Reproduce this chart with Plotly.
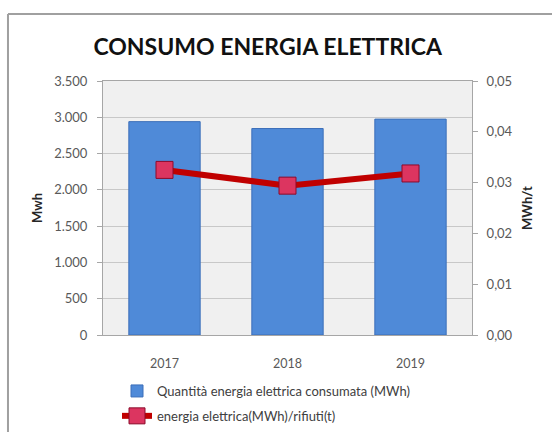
import plotly.graph_objects as go

# Annual electricity consumption and consumption per tonne of waste
years = ["2017", "2018", "2019"]
consumo_mwh = [2940, 2845, 2975]
mwh_per_t = [0.0325, 0.0294, 0.0318]

left_ticks = [0, 500, 1000, 1500, 2000, 2500, 3000, 3500]
right_ticks = [0.00, 0.01, 0.02, 0.03, 0.04, 0.05]

FONT = "Lato, Calibri, 'Open Sans', sans-serif"
TICK_GRAY = "#595959"
AXIS_GRAY = "#a6a6a6"

fig = go.Figure()

fig.add_trace(go.Bar(
    x=years,
    y=consumo_mwh,
    name="Quantità energia elettrica consumata (MWh)",
    marker=dict(color="#4f8ad8", line=dict(color="#3c6fb9", width=1)),
    width=0.58,
    legendgroup="a",
    yaxis="y",
))

fig.add_trace(go.Scatter(
    x=years,
    y=mwh_per_t,
    name="energia elettrica(MWh)/rifiuti(t)",
    mode="lines+markers",
    line=dict(color="#c00000", width=6),
    marker=dict(symbol="square", size=17, color="#dc3560",
                line=dict(color="#8c0a2a", width=1)),
    legendgroup="b",
    yaxis="y2",
))

# Outer chart frame (left and top edges)
frame_x = -0.2575
frame_top = 1.2638
fig.add_shape(type="line", xref="paper", yref="paper",
              x0=frame_x, x1=frame_x, y0=-0.5, y1=frame_top,
              line=dict(color="#a0a0a0", width=2), layer="above")
fig.add_shape(type="line", xref="paper", yref="paper",
              x0=frame_x, x1=1.4, y0=frame_top, y1=frame_top,
              line=dict(color="#a0a0a0", width=2), layer="above")

fig.update_layout(
    width=552,
    height=432,
    margin=dict(l=103, r=80, t=81, b=97),
    paper_bgcolor="white",
    plot_bgcolor="#f0f0f0",
    separators=",.",
    font=dict(family=FONT, size=12, color=TICK_GRAY),
    title=dict(
        text="<b>CONSUMO ENERGIA ELETTRICA</b>",
        font=dict(family=FONT, size=23, color="#111111"),
        x=0.485, xref="container", xanchor="center",
        y=1 - 47 / 432, yref="container", yanchor="middle",
    ),
    showlegend=True,
    legend=dict(
        orientation="v",
        x=(117 - 103) / 369, xref="paper", xanchor="left",
        y=1 - 376 / 432, yref="container", yanchor="top",
        traceorder="grouped",
        tracegroupgap=5,
        font=dict(family=FONT, size=13, color="#404040"),
        bgcolor="rgba(0,0,0,0)",
        itemwidth=30,
    ),
    xaxis=dict(
        type="category",
        showgrid=False,
        showline=True,
        linecolor=AXIS_GRAY,
        linewidth=1,
        mirror=True,
        ticks="",
        ticklabelstandoff=17,
        automargin=False,
        tickfont=dict(family=FONT, size=12.5, color=TICK_GRAY),
    ),
    yaxis=dict(
        range=[0, 3500],
        tickvals=left_ticks,
        tickformat=",.0f",
        showgrid=True,
        gridcolor="#c8c8c8",
        gridwidth=1,
        showline=True,
        linecolor=AXIS_GRAY,
        ticks="outside",
        ticklen=5,
        tickcolor=AXIS_GRAY,
        ticklabelstandoff=7,
        zeroline=False,
        automargin=False,
        tickfont=dict(family=FONT, size=13, color=TICK_GRAY),
        title=dict(text="<b>Mwh</b>", font=dict(family=FONT, size=13, color="#262626"),
                   standoff=8),
    ),
    yaxis2=dict(
        range=[0, 0.05],
        tickvals=right_ticks,
        tickformat=".2f",
        overlaying="y",
        side="right",
        showgrid=False,
        showline=True,
        linecolor=AXIS_GRAY,
        ticks="outside",
        ticklen=5,
        tickcolor=AXIS_GRAY,
        ticklabelstandoff=6,
        zeroline=False,
        automargin=False,
        tickfont=dict(family=FONT, size=13, color=TICK_GRAY),
        title=dict(text="<b>MWh/t</b>", font=dict(family=FONT, size=13, color="#262626"),
                   standoff=11),
    ),
)

fig.write_html("out.html")
